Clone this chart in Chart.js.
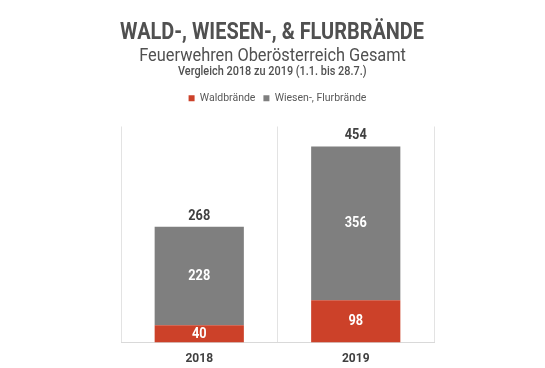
<!DOCTYPE html>
<html><head><meta charset="utf-8">
<script src="https://cdn.jsdelivr.net/npm/chart.js@4"></script>
<style>
html,body{margin:0;padding:0;background:#fff;}
#wrap{position:relative;width:545px;height:368px;overflow:hidden;}
.hd{position:absolute;left:0;width:545px;text-align:center;font-family:Roboto,sans-serif;white-space:nowrap;}
.hd span{display:inline-block;transform-origin:50% 50%;}
#t1{top:17px;font-size:24px;font-weight:bold;color:#505050;}
#t1 span{transform:scaleX(0.83);}
#t2{top:44px;font-size:18px;color:#505050;}
#t2 span{transform:scaleX(0.91);}
#t3{top:63px;font-size:13px;font-weight:500;color:#505050;}
#t3 span{transform:scaleX(0.84);}
canvas{position:absolute;left:0;top:0;}
</style></head>
<body><div id="wrap">
<canvas id="c" width="545" height="368"></canvas>
<div class="hd" id="t1"><span id="s1">WALD-, WIESEN-, &amp; FLURBRÄNDE</span></div>
<div class="hd" id="t2"><span id="s2">Feuerwehren Oberösterreich Gesamt</span></div>
<div class="hd" id="t3"><span id="s3">Vergleich 2018 zu 2019 (1.1. bis 28.7.)</span></div>
</div>
<script>
const categories = ["2018", "2019"];
const waldbraende = [40, 98];
const wiesenFlur = [228, 356];
const seriesNames = ["Waldbrände", "Wiesen-, Flurbrände"];

const FONT = 'Roboto, sans-serif';

const legendMargin = {
  id: 'legendMargin',
  beforeInit(chart) {
    const orig = chart.legend.fit;
    chart.legend.fit = function () { orig.bind(chart.legend)(); this.height += 13; };
  }
};

const labelsPlugin = {
  id: 'valueLabels',
  afterDatasetsDraw(chart) {
    const ctx = chart.ctx;
    ctx.save();
    ctx.textAlign = 'center';
    ctx.textBaseline = 'middle';
    const drawNarrow = (txt, x, y) => {
      ctx.save();
      ctx.translate(x, y);
      ctx.scale(0.85, 1);
      ctx.fillText(txt, 0, 0);
      ctx.restore();
    };
    chart.data.datasets.forEach((ds, di) => {
      const meta = chart.getDatasetMeta(di);
      meta.data.forEach((bar, i) => {
        ctx.fillStyle = '#ffffff';
        ctx.font = 'bold 15px ' + FONT;
        drawNarrow(String(ds.data[i]), bar.x, (bar.y + bar.base) / 2);
      });
    });
    const lastMeta = chart.getDatasetMeta(chart.data.datasets.length - 1);
    lastMeta.data.forEach((bar, i) => {
      const total = waldbraende[i] + wiesenFlur[i];
      ctx.fillStyle = '#404040';
      ctx.font = 'bold 15px ' + FONT;
      drawNarrow(String(total), bar.x, bar.y - 11);
    });
    ctx.restore();
  }
};

new Chart(document.getElementById('c'), {
  type: 'bar',
  data: {
    labels: categories,
    datasets: [
      { label: seriesNames[0], data: waldbraende, backgroundColor: '#CC4129' },
      { label: seriesNames[1], data: wiesenFlur, backgroundColor: '#7F7F7F' }
    ]
  },
  options: {
    responsive: false,
    animation: false,
    events: [],
    layout: { padding: { top: 85, left: 121, right: 111, bottom: -7 } },
    datasets: { bar: { categoryPercentage: 1, barPercentage: 0.57 } },
    plugins: {
      legend: {
        position: 'top',
        labels: { boxWidth: 6, boxHeight: 6, padding: 8, color: '#595959', font: { family: FONT, size: 10.5 } }
      },
      title: { display: false },
      tooltip: { enabled: false }
    },
    scales: {
      x: {
        stacked: true,
        grid: { color: '#E3E3E3', drawTicks: false, offset: true },
        border: { color: '#D9D9D9' },
        ticks: { color: '#404040', padding: 9, font: { family: FONT, size: 12, weight: 'bold' } }
      },
      y: {
        stacked: true,
        display: false,
        min: 0,
        max: 500
      }
    }
  },
  plugins: [legendMargin, labelsPlugin]
});
</script>
</body></html>
